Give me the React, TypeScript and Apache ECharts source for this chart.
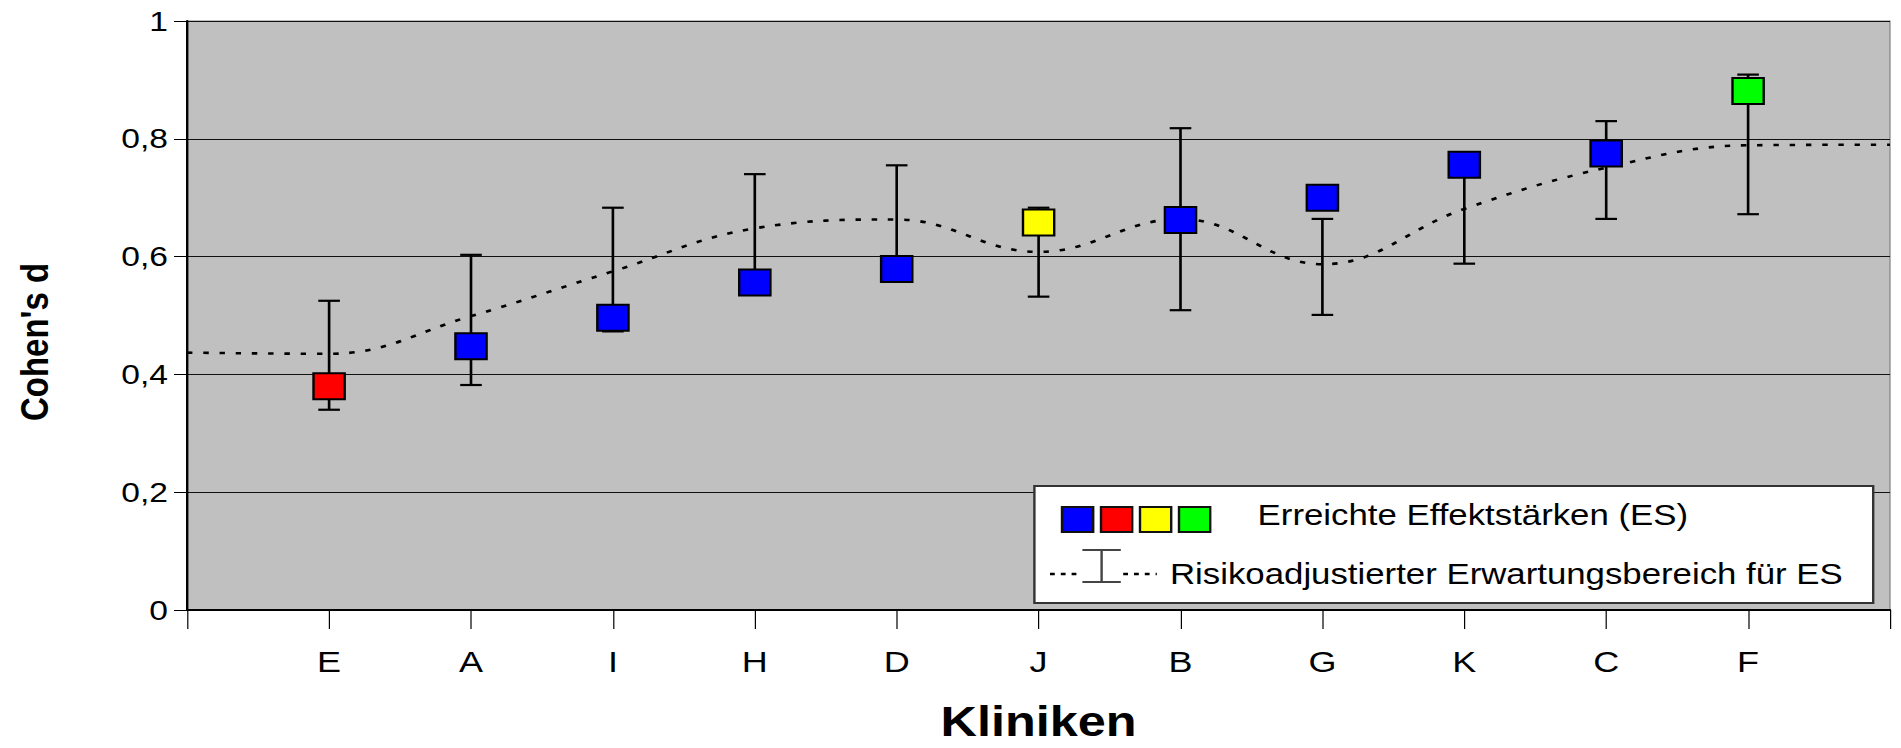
import React, { useEffect, useRef } from "react";
import * as echarts from "echarts";

// ---- data ----
const categories = ["", "E", "A", "I", "H", "D", "J", "B", "G", "K", "C", "F", " "];
const clinics = ["E", "A", "I", "H", "D", "J", "B", "G", "K", "C", "F"];
const effectSizes = [0.38, 0.448, 0.496, 0.556, 0.579, 0.658, 0.662, 0.7, 0.756, 0.775, 0.881];
const rangeLow = [0.34, 0.382, 0.473, 0.556, 0.571, 0.532, 0.509, 0.501, 0.588, 0.664, 0.672];
const rangeHigh = [0.525, 0.603, 0.683, 0.74, 0.755, 0.683, 0.818, 0.664, 0.774, 0.83, 0.909];
const expected = [0.437, 0.435, 0.499, 0.575, 0.648, 0.663, 0.608, 0.664, 0.587, 0.681, 0.751, 0.789, 0.79];
const legendLabels = ["Erreichte Effektstärken (ES)", "Risikoadjustierter Erwartungsbereich für ES"];
const xTitle = "Kliniken";
const yTitle = "Cohen's d";

// ---- styles ----
const FONT = "'Liberation Sans', Arial, sans-serif";
const BLUE = "#0000FF";
const MARKER_COLORS: Record<string, string> = { E: "#FF0000", J: "#FFFF00", F: "#00FF00" };
const LEGEND_SQUARES = ["#0000FF", "#FF0000", "#FFFF00", "#00FF00"];

export default function App() {
  const ref = useRef<HTMLDivElement>(null);
  useEffect(() => {
    document.body.style.margin = "0";
    document.documentElement.style.overflow = "hidden";
    document.body.style.overflow = "hidden";
    if (!ref.current) return;
    const chart = echarts.init(ref.current, undefined, { renderer: "svg" });

    const errData = clinics.map((c, i) => [c, rangeLow[i], rangeHigh[i]]);
    const esData = clinics.map((c, i) => ({
      value: [c, effectSizes[i]],
      itemStyle: { color: MARKER_COLORS[c] || BLUE },
    }));

    const legendX = 862;
    const legendY = 486;
    const graphic: any[] = [
      {
        type: "text",
        x: 29,
        y: 342,
        rotation: Math.PI / 2,
        style: {
          text: yTitle,
          font: `bold 33px ${FONT}`,
          fill: "#000",
          textAlign: "center",
          textVerticalAlign: "middle",
        },
      },
      {
        type: "rect",
        shape: { x: legendX, y: legendY, width: 699, height: 117 },
        style: { fill: "#fff", stroke: "#333", lineWidth: 2 },
        z: 10,
      },
      ...LEGEND_SQUARES.map((c, i) => ({
        type: "rect",
        shape: { x: 885 + i * 32.5, y: 507, width: 26, height: 25 },
        style: { fill: c, stroke: "#111", lineWidth: 2 },
        z: 11,
      })),
      {
        type: "text",
        x: 1048,
        y: 515,
        style: { text: legendLabels[0], font: `29px ${FONT}`, fill: "#000", textVerticalAlign: "middle" },
        z: 11,
      },
      {
        type: "line",
        shape: { x1: 875, y1: 574, x2: 900, y2: 574 },
        style: { stroke: "#000", lineWidth: 2.5, lineDash: [4, 5] },
        z: 11,
      },
      {
        type: "line",
        shape: { x1: 936, y1: 574, x2: 964, y2: 574 },
        style: { stroke: "#000", lineWidth: 2.5, lineDash: [4, 5] },
        z: 11,
      },
      {
        type: "line",
        shape: { x1: 918, y1: 550, x2: 918, y2: 582 },
        style: { stroke: "#444", lineWidth: 2 },
        z: 11,
      },
      {
        type: "line",
        shape: { x1: 902, y1: 550, x2: 934, y2: 550 },
        style: { stroke: "#444", lineWidth: 2 },
        z: 11,
      },
      {
        type: "line",
        shape: { x1: 902, y1: 582, x2: 934, y2: 582 },
        style: { stroke: "#444", lineWidth: 2 },
        z: 11,
      },
      {
        type: "text",
        x: 975,
        y: 574,
        style: { text: legendLabels[1], font: `29px ${FONT}`, fill: "#000", textVerticalAlign: "middle" },
        z: 11,
      },
    ];

    chart.setOption({
      animation: false,
      backgroundColor: "#fff",
      grid: {
        left: 156,
        right: 9,
        top: 21,
        height: 596,
        show: true,
        backgroundColor: "#C0C0C0",
        borderColor: "#808080",
        borderWidth: 1,
      },
      xAxis: {
        type: "category",
        data: categories,
        boundaryGap: false,
        name: xTitle,
        nameLocation: "middle",
        nameGap: 91,
        nameTextStyle: { fontFamily: FONT, fontWeight: "bold", fontSize: 42, color: "#000" },
        axisLine: { lineStyle: { color: "#000", width: 2 } },
        axisTick: { show: true, interval: 0, length: 19, lineStyle: { color: "#000", width: 1 } },
        axisLabel: { interval: 0, margin: 37, fontFamily: FONT, fontSize: 30, color: "#000" },
        splitLine: { show: false },
      },
      yAxis: {
        type: "value",
        min: 0,
        max: 1,
        interval: 0.2,
        axisLine: { show: true, lineStyle: { color: "#000", width: 2 } },
        axisTick: { show: true, length: 11, lineStyle: { color: "#000", width: 1 } },
        axisLabel: {
          margin: 16,
          fontFamily: FONT,
          fontSize: 28,
          color: "#000",
          formatter: (v: number) => String(Math.round(v * 10) / 10).replace(".", ","),
        },
        splitLine: { show: true, lineStyle: { color: "#111", width: 1 } },
      },
      series: [
        {
          type: "line",
          data: expected,
          smooth: 0.4,
          symbol: "none",
          lineStyle: { color: "#000", width: 2.6, type: [4.5, 9] },
          z: 2,
        },
        {
          type: "custom",
          data: errData,
          encode: { x: 0, y: [1, 2] },
          z: 3,
          renderItem: (params: any, api: any) => {
            const x = api.value(0);
            const lo = api.coord([x, api.value(1)]);
            const hi = api.coord([x, api.value(2)]);
            const hw = 9;
            const style = { stroke: "#000", lineWidth: 2.2 };
            return {
              type: "group",
              children: [
                { type: "line", shape: { x1: lo[0], y1: lo[1], x2: hi[0], y2: hi[1] }, style },
                { type: "line", shape: { x1: hi[0] - hw, y1: hi[1], x2: hi[0] + hw, y2: hi[1] }, style },
                { type: "line", shape: { x1: lo[0] - hw, y1: lo[1], x2: lo[0] + hw, y2: lo[1] }, style },
              ],
            };
          },
        },
        {
          type: "scatter",
          data: esData,
          symbol: "rect",
          symbolSize: 26,
          itemStyle: { borderColor: "#000", borderWidth: 2, opacity: 1 },
          z: 4,
        },
      ],
      graphic,
    });
    return () => chart.dispose();
  }, []);

  return (
    <div
      style={{
        position: "fixed",
        left: 0,
        top: 0,
        width: 1901,
        height: 748,
        overflow: "hidden",
        background: "#fff",
      }}
    >
      <div
        ref={ref}
        style={{
          position: "absolute",
          left: 0,
          top: 0,
          width: 1584,
          height: 748,
          transform: "scaleX(1.2)",
          transformOrigin: "0 0",
        }}
      />
    </div>
  );
}
